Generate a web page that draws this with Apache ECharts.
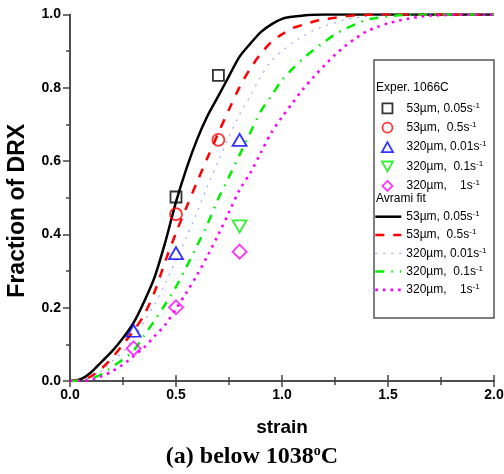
<!DOCTYPE html>
<html><head><meta charset="utf-8">
<script src="https://cdn.jsdelivr.net/npm/echarts@6/dist/echarts.min.js"></script>
<style>html,body{margin:0;padding:0;background:#fff}#c{width:504px;height:474px}</style>
</head><body><div id="c"></div>
<script>
// ---- data ----
var strainGrid = [0,0.05,0.1,0.15,0.2,0.25,0.3,0.35,0.4,0.45,0.5,0.55,0.6,0.65,0.7,0.75,0.8,0.85,0.9,0.95,1.0,1.05,1.1,1.15,1.2,1.25,1.3,1.35,1.4,1.45,1.5,1.55,1.6,1.65,1.7,1.75,1.8,1.85,1.9,1.95,2.0];
var fit53_005 = [0,0.005,0.024,0.053,0.082,0.117,0.159,0.217,0.285,0.38,0.489,0.581,0.66,0.725,0.778,0.832,0.885,0.92,0.952,0.973,0.988,0.994,0.997,0.999,1,1,1,1,1,1,1,1,1,1,1,1,1,1,1,1,1];
var fit53_05 = [0,0.003,0.013,0.035,0.064,0.1,0.137,0.181,0.245,0.328,0.404,0.475,0.544,0.611,0.677,0.741,0.802,0.852,0.893,0.925,0.946,0.963,0.972,0.981,0.987,0.991,0.995,0.998,0.999,1,1,1,1,1,1,1,1,1,1,1,1];
var fit320_001 = [0,0.002,0.01,0.028,0.055,0.08,0.118,0.162,0.21,0.268,0.33,0.393,0.461,0.534,0.6,0.667,0.727,0.778,0.83,0.874,0.9,0.923,0.941,0.957,0.968,0.977,0.986,0.991,0.995,0.998,0.999,1,1,1,1,1,1,1,1,1,1];
var fit320_01 = [0,0.001,0.006,0.019,0.039,0.059,0.083,0.124,0.166,0.21,0.257,0.312,0.37,0.43,0.498,0.557,0.617,0.677,0.736,0.778,0.821,0.852,0.88,0.904,0.925,0.946,0.961,0.974,0.986,0.991,0.995,0.998,0.999,1,1,1,1,1,1,1,1];
var fit320_1 = [0,0,0.004,0.013,0.027,0.045,0.068,0.092,0.123,0.154,0.197,0.242,0.29,0.343,0.4,0.46,0.522,0.567,0.623,0.678,0.72,0.759,0.797,0.83,0.861,0.89,0.915,0.936,0.954,0.966,0.976,0.983,0.989,0.994,0.997,0.998,0.999,1,1,1,1];

var exp53_005_x = [0.5,0.7],      exp53_005_y = [0.502,0.834];
var exp53_05_x  = [0.5,0.7],      exp53_05_y  = [0.455,0.658];
var exp320_001_x = [0.3,0.5,0.8], exp320_001_y = [0.137,0.349,0.658];
var exp320_01_x = [0.8],          exp320_01_y = [0.422];
var exp320_1_x  = [0.3,0.5,0.8],  exp320_1_y  = [0.089,0.201,0.353];

var legendLabels = ['53\u00b5m, 0.05s', '53\u00b5m,  0.5s', '320\u00b5m, 0.01s', '320\u00b5m,  0.1s', '320\u00b5m,    1s'];
var xTicks = [0,0.5,1.0,1.5,2.0];
var yTicks = [0,0.2,0.4,0.6,0.8,1.0];

// ---- build ----
function pairs(xs, ys){ return xs.map(function(x,i){return [x, ys[i]];}); }
var colors = ['#000000','#ff0000','#0000ff','#00ee00','#ff00ff'];
var expNames = ['e0','e1','e2','e3','e4'];
var fitNames = ['f0','f1','f2','f3','f4'];
var labelMap = {};
expNames.forEach(function(n,i){labelMap[n]=legendLabels[i];});
fitNames.forEach(function(n,i){labelMap[n]=legendLabels[i];});

var symbols = [
  'path://M0,0 L10,0 L10,10 L0,10 Z',
  'circle',
  'path://M5,0 L10,9 L0,9 Z',
  'path://M0,0 L10,0 L5,9 Z',
  'path://M5,0 L10,5 L5,10 L0,5 Z'
];
var symSizes = [[11,11],[12,12],[14,12],[14,12],[14,14]];
var expData = [
  pairs(exp53_005_x, exp53_005_y), pairs(exp53_05_x, exp53_05_y),
  pairs(exp320_001_x, exp320_001_y), pairs(exp320_01_x, exp320_01_y),
  pairs(exp320_1_x, exp320_1_y)
];
var fits = [fit53_005, fit53_05, fit320_001, fit320_01, fit320_1];
var lineStyles = [
  {color:'#000000', width:2.5, type:'solid'},
  {color:'#ff0000', width:2.5, type:[9,9]},
  {color:'rgba(90,90,255,0.55)', width:1.2, type:[2,6]},
  {color:'#00ee00', width:2.5, type:[9,7,1.5,7]},
  {color:'#ff00ff', width:2.6, type:[2.6,5]}
];

var series = [];
fits.forEach(function(f,i){
  series.push({
    name: fitNames[i], type:'line', xAxisIndex:0, yAxisIndex:0,
    data: pairs(strainGrid, f), symbol:'none', smooth:0.3,
    lineStyle: lineStyles[i], itemStyle:{color: lineStyles[i].color}, z: 2
  });
});
expData.forEach(function(d,i){
  series.push({
    name: expNames[i], type:'scatter', xAxisIndex:0, yAxisIndex:0,
    data: d, symbol: symbols[i], symbolSize: symSizes[i],
    itemStyle:{color:'rgba(255,255,255,0)', borderColor: colors[i], borderWidth:1.8},
    z: 5
  });
});

var fmtLegend = function(n){ return labelMap[n] + '{sup|-1}'; };
var legendText = {fontFamily:'Liberation Sans, Arial', fontSize:12, color:'#000',
  rich:{sup:{fontSize:8, verticalAlign:'top', padding:[0,0,6,0], fontFamily:'Liberation Sans, Arial'}}};

var expLegendData = expNames.map(function(n,i){
  return {name:n, icon:symbols[i], itemStyle:{color:'rgba(255,255,255,0)', borderColor:colors[i], borderWidth:1.8}};
});
var fitLegendData = fitNames.map(function(n,i){
  return {name:n, itemStyle:{opacity:0}, lineStyle:{color:lineStyles[i].color, width:lineStyles[i].width, type:lineStyles[i].type}};
});

var axisLineStyle = {color:'#444', width:1.5};
var labelFont = {fontFamily:'Liberation Sans, Arial', fontWeight:'bold', fontSize:14, color:'#000'};

var option = {
  animation:false,
  grid:{left:70, right:10, top:14.5, bottom:93, outerBoundsMode:'none', containLabel:false},
  xAxis:[
    {type:'value', min:0, max:2, interval:0.5, position:'bottom',
     axisLine:{lineStyle:axisLineStyle}, splitLine:{show:false},
     axisTick:{inside:true, length:6, lineStyle:axisLineStyle},
     minorTick:{show:true, splitNumber:2, length:4, lineStyle:axisLineStyle},
     axisLabel:Object.assign({margin:7, formatter:function(v){return v.toFixed(1);}}, labelFont),
     name:'strain', nameLocation:'middle', nameGap:37,
     nameTextStyle:{fontFamily:'Liberation Sans, Arial', fontWeight:'bold', fontSize:19, color:'#000'}},
    {type:'value', min:0, max:2, interval:0.5, position:'top',
     axisLine:{lineStyle:axisLineStyle}, splitLine:{show:false},
     axisTick:{inside:true, length:6, lineStyle:axisLineStyle},
     minorTick:{show:true, splitNumber:2, length:4, lineStyle:axisLineStyle},
     axisLabel:{show:false}}
  ],
  yAxis:[
    {type:'value', min:0, max:1, interval:0.2, position:'left',
     axisLine:{show:true, lineStyle:axisLineStyle}, splitLine:{show:false},
     axisTick:{show:true, inside:false, length:7, lineStyle:axisLineStyle},
     minorTick:{show:true, splitNumber:2, length:4, lineStyle:axisLineStyle},
     axisLabel:Object.assign({margin:9, formatter:function(v){return v.toFixed(1);}}, labelFont),
     name:'Fraction of DRX', nameLocation:'middle', nameGap:41, nameRotate:90,
     nameTextStyle:{fontFamily:'Liberation Sans, Arial', fontWeight:'bold', fontSize:23, color:'#000', padding:[0,26,0,0]}},
    {type:'value', min:0, max:1, interval:0.2, position:'right',
     axisLine:{show:true, lineStyle:axisLineStyle}, splitLine:{show:false},
     axisTick:{show:true, inside:true, length:6, lineStyle:axisLineStyle},
     minorTick:{show:true, splitNumber:2, length:4, lineStyle:axisLineStyle},
     axisLabel:{show:false}}
  ],
  legend:[
    {data:expLegendData, orient:'vertical', left:381, top:101.3, itemWidth:28, itemHeight:10, itemGap:6.4,
     formatter:fmtLegend, textStyle:legendText, selectedMode:false, padding:0},
    {data:fitLegendData, orient:'vertical', left:374, top:209.7, itemWidth:26, itemHeight:14, itemGap:5.3,
     formatter:fmtLegend, textStyle:legendText, selectedMode:false, padding:0}
  ],
  graphic:[
    {type:'rect', shape:{x:374, y:60, width:120, height:258}, style:{fill:'none', stroke:'#555', lineWidth:1.5}, z:10},
    {type:'text', left:376, top:82, style:{text:'Exper. 1066C', font:'12px "Liberation Sans", Arial', fill:'#000'}, z:10},
    {type:'text', left:376, top:193, style:{text:'Avrami fit', font:'12px "Liberation Sans", Arial', fill:'#000'}, z:10},
    {type:'text', left:'center', top:444, z:10,
     style:{text:'(a) below 1038{s|o}C', fill:'#000', font:'bold 24px "Liberation Serif", "Times New Roman"',
       rich:{s:{fontSize:14, fontWeight:'bold', fontFamily:'Liberation Serif', verticalAlign:'top', padding:[0,0,12,0]}}}}
  ],
  series: series
};
var chart = echarts.init(document.getElementById('c'), null, {renderer:'canvas'});
chart.setOption(option);
</script></body></html>
